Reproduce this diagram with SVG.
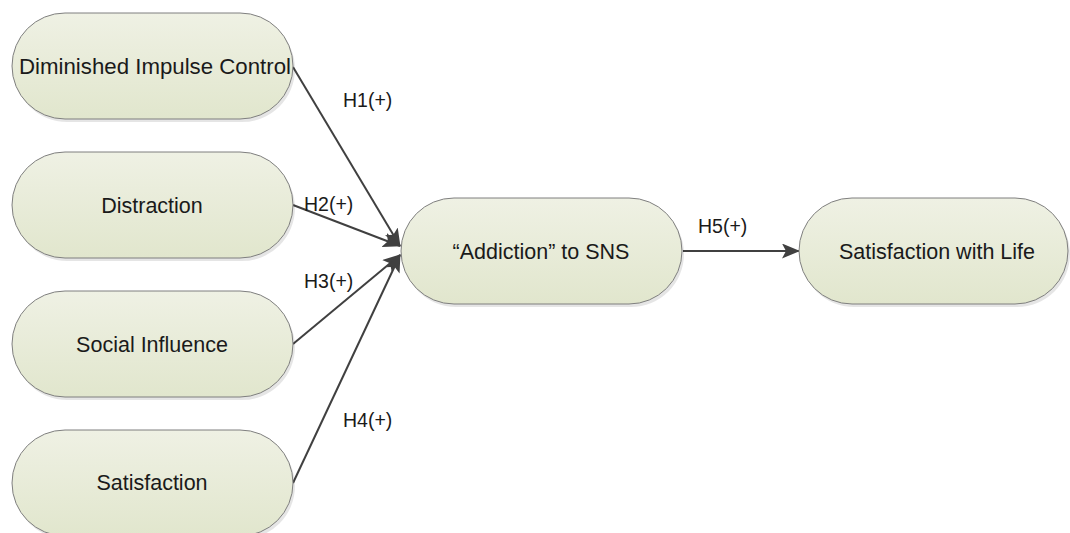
<svg xmlns="http://www.w3.org/2000/svg" width="1070" height="533" viewBox="0 0 1070 533">
<style>
.node{fill:url(#g);stroke:#7f7f7f;stroke-width:1}
.shadow{fill:#000;opacity:0.10}
.t{font-family:"Liberation Sans",Arial,sans-serif;font-size:21.5px;fill:#1a1a1a;text-anchor:middle}
.lbl{font-family:"Liberation Sans",Arial,sans-serif;font-size:19.5px;fill:#1a1a1a}
.c{stroke:#404040;stroke-width:2;fill:none;marker-end:url(#ah)}
</style>
<defs>
<linearGradient id="g" x1="0" y1="0" x2="0" y2="1">
<stop offset="0" stop-color="#eff1e4"/>
<stop offset="1" stop-color="#e1e6cd"/>
</linearGradient>
<marker id="ah" markerWidth="18" markerHeight="15" refX="17" refY="7.5" orient="auto" markerUnits="userSpaceOnUse">
<path d="M0,0 L18,7.5 L0,15 L4,7.5 Z" fill="#404040"/>
</marker>
</defs>
<rect width="1070" height="533" fill="#fff"/>
<g id="connectors">
<line class="c" x1="293" y1="67" x2="400" y2="246"/>
<line class="c" x1="293" y1="205" x2="400" y2="246"/>
<line class="c" x1="293" y1="344" x2="400" y2="255"/>
<line class="c" x1="293" y1="483" x2="400" y2="255"/>
<line class="c" x1="683" y1="251" x2="799" y2="251"/>
<text class="lbl" x="343" y="107">H1(+)</text>
<text class="lbl" x="304" y="211">H2(+)</text>
<text class="lbl" x="304" y="288">H3(+)</text>
<text class="lbl" x="343" y="427">H4(+)</text>
<text class="lbl" x="698" y="233">H5(+)</text>
</g>
<g id="n1">
<rect class="shadow" x="14" y="16" width="281" height="106" rx="53"/>
<rect class="node" x="12" y="13" width="281" height="106" rx="53"/>
<text class="t" x="155" y="74" textLength="272" lengthAdjust="spacingAndGlyphs">Diminished Impulse Control</text>
</g>
<g id="n2">
<rect class="shadow" x="14" y="155" width="281" height="106" rx="53"/>
<rect class="node" x="12" y="152" width="281" height="106" rx="53"/>
<text class="t" x="152" y="213">Distraction</text>
</g>
<g id="n3">
<rect class="shadow" x="14" y="294" width="281" height="106" rx="53"/>
<rect class="node" x="12" y="291" width="281" height="106" rx="53"/>
<text class="t" x="152" y="352">Social Influence</text>
</g>
<g id="n4">
<rect class="shadow" x="14" y="433" width="281" height="106" rx="53"/>
<rect class="node" x="12" y="430" width="281" height="106" rx="53"/>
<text class="t" x="152" y="490">Satisfaction</text>
</g>
<g id="n5">
<rect class="shadow" x="403" y="201" width="281" height="106" rx="53"/>
<rect class="node" x="401" y="198" width="281" height="106" rx="53"/>
<text class="t" x="541" y="259">“Addiction” to SNS</text>
</g>
<g id="n6">
<rect class="shadow" x="801" y="201" width="269" height="106" rx="53"/>
<rect class="node" x="799" y="198" width="269" height="106" rx="53"/>
<text class="t" x="937" y="259">Satisfaction with Life</text>
</g>
</svg>
